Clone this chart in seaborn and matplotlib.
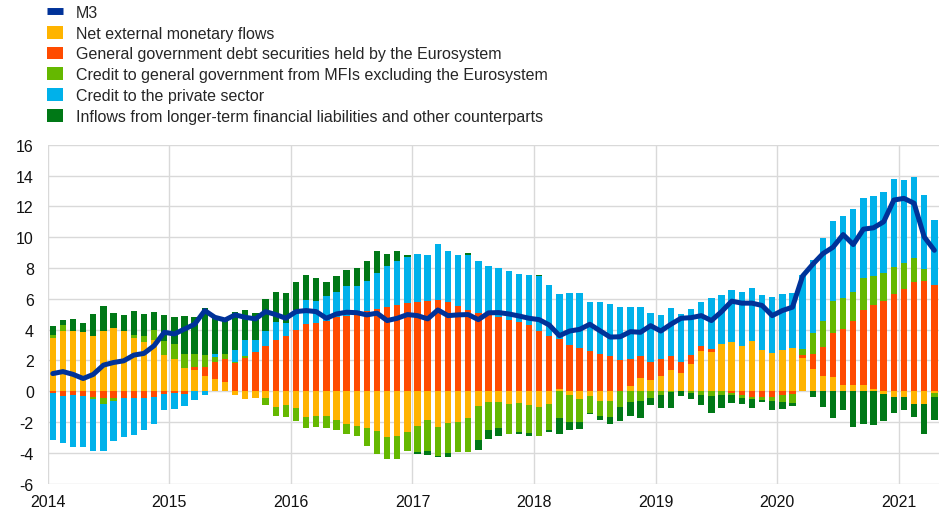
import numpy as np
import pandas as pd
import matplotlib
matplotlib.use("Agg")
import matplotlib.pyplot as plt
from matplotlib.lines import Line2D
from matplotlib.patches import Patch
import seaborn as sns

# ------------------ data (annual % change contributions, monthly Jan 2014 - Apr 2021) ------------------
months = pd.date_range("2014-01-01", periods=88, freq="MS")

m3 = [1.15, 1.28, 1.10, 0.83, 1.10, 1.70, 1.87, 1.98, 2.35, 2.46, 2.96, 3.83,
      3.72, 4.04, 4.35, 5.24, 4.80, 4.63, 4.96, 4.80, 4.70, 5.17, 4.98, 4.74,
      5.17, 5.24, 5.17, 4.74, 5.02, 5.13, 5.10, 4.96, 5.07, 4.59, 4.74, 4.98,
      4.91, 4.70, 5.28, 4.91, 4.96, 4.98, 4.65, 5.09, 5.11, 5.02, 4.89, 4.74,
      4.65, 4.30, 3.61, 3.91, 4.02, 4.35, 3.93, 3.52, 3.54, 3.87, 3.83, 4.26,
      3.91, 4.35, 4.74, 4.78, 4.91, 4.59, 5.17, 5.85, 5.72, 5.72, 5.57, 4.91,
      5.24, 5.46, 7.48, 8.24, 8.93, 9.35, 10.17, 9.52, 10.52, 10.61, 11.00, 12.41,
      12.52, 12.20, 10.02, 9.15]

net_external = [3.46, 3.91, 3.91, 3.85, 3.57, 3.89, 4.09, 3.91, 3.46, 3.22, 3.33, 2.35,
                2.09, 1.52, 1.37, 0.98, 0.83, 0.59, -0.26, -0.52, -0.41, -0.41, -1.02, -0.87,
                -1.09, -1.65, -1.57, -1.57, -1.83, -2.09, -2.26, -2.39, -2.59, -2.98, -2.89, -2.61,
                -2.26, -1.87, -2.33, -2.07, -1.96, -1.76, -0.96, -0.72, -0.72, -0.85, -0.74, -0.87,
                -1.02, -0.80, 0.13, -0.22, -0.48, -0.30, -0.63, -0.63, 0.00, 0.37, 0.87, 0.74,
                1.00, 1.39, 1.20, 1.76, 2.59, 2.52, 3.07, 3.22, 2.93, 3.24, 2.70, 2.50,
                2.67, 2.78, 2.13, 1.43, 1.00, 0.96, 0.39, 0.43, 0.43, 0.17, -0.20, -0.37,
                -0.37, -0.85, -0.80, -0.09]

gov_debt_eurosystem = [-0.08, -0.33, -0.26, -0.33, -0.35, -0.41, -0.46, -0.46, -0.41, -0.41, -0.35, -0.20,
                       -0.13, -0.20, 0.20, 0.59, 1.08, 1.48, 1.85, 2.17, 2.57, 2.96, 3.33, 3.61,
                       4.00, 4.37, 4.41, 4.59, 4.85, 4.91, 4.96, 5.22, 5.35, 5.50, 5.63, 5.72,
                       5.80, 5.85, 5.91, 5.78, 5.52, 5.26, 5.07, 5.13, 4.80, 4.65, 4.48, 4.33,
                       3.93, 3.61, 3.26, 2.98, 2.80, 2.61, 2.41, 2.26, 2.04, 1.72, 1.39, 1.19,
                       1.11, 0.91, 0.69, 0.59, 0.34, 0.22, 0.00, -0.08, -0.26, -0.39, -0.35, -0.35,
                       -0.26, -0.20, 0.20, 0.98, 1.85, 2.84, 3.68, 4.16, 4.83, 5.40, 5.89, 6.30,
                       6.67, 7.09, 7.15, 6.93]

credit_gov_mfi = [0.19, 0.39, 0.00, 0.00, -0.15, -0.44, -0.17, 0.00, 0.19, 0.39, 0.63, 0.91,
                  0.98, 0.87, 0.82, 0.78, 0.33, 0.32, 0.06, 0.09, 0.00, -0.46, -0.55, -0.80,
                  -0.85, -0.74, -0.73, -0.82, -0.69, -0.71, -0.67, -1.13, -1.48, -1.41, -1.50, -1.24,
                  -1.67, -1.98, -1.84, -1.93, -2.00, -2.20, -2.21, -1.82, -1.67, -1.89, -1.91, -1.83,
                  -1.89, -1.68, -1.72, -1.76, -1.54, -1.13, -0.98, -1.04, -1.00, -0.70, -0.63, -0.46,
                  -0.22, -0.07, 0.00, -0.13, -0.22, -0.30, -0.26, -0.14, -0.17, -0.13, -0.24, -0.30,
                  -0.46, -0.54, 0.39, 1.35, 1.74, 2.09, 2.00, 1.87, 2.09, 1.93, 1.76, 1.79,
                  1.63, 1.56, 0.78, -0.26]

credit_private = [-3.05, -3.02, -3.35, -3.28, -3.37, -3.00, -2.57, -2.52, -2.42, -2.11, -1.74, -1.02,
                  -1.00, -0.76, -0.59, -0.22, 0.17, 0.00, 0.76, 1.07, 0.76, 0.95, 1.19, 0.82,
                  1.30, 1.56, 1.44, 1.61, 1.61, 1.94, 1.89, 1.91, 2.35, 2.63, 2.80, 2.98,
                  3.13, 3.00, 3.66, 3.35, 3.35, 3.61, 3.36, 3.02, 3.20, 3.15, 3.15, 3.21,
                  3.53, 3.26, 2.91, 3.39, 3.61, 3.17, 3.37, 3.39, 3.42, 3.37, 3.24, 3.18,
                  2.85, 3.11, 3.13, 2.98, 2.85, 3.30, 3.19, 3.35, 3.53, 3.48, 3.54, 3.63,
                  3.63, 3.63, 4.85, 4.78, 5.34, 5.13, 5.30, 5.37, 5.22, 5.20, 5.31, 5.67,
                  5.42, 5.28, 4.83, 4.16]

longer_term_other = [0.61, 0.33, 0.81, 0.56, 1.47, 1.63, 0.98, 1.07, 1.55, 1.41, 1.19, 1.72,
                     1.73, 2.50, 2.46, 3.04, 2.48, 2.31, 2.46, 1.97, 1.74, 2.07, 1.94, 1.94,
                     1.77, 1.64, 1.50, 0.89, 1.04, 1.00, 1.15, 1.33, 1.39, 0.76, 0.66, 0.15,
                     -0.14, -0.30, -0.09, -0.28, 0.00, 0.10, -0.66, -0.55, -0.54, -0.06, -0.15, -0.17,
                     0.07, -0.13, -1.02, -0.52, -0.44, -0.07, -0.22, -0.48, -0.93, -0.91, -1.13, -0.43,
                     -0.85, -1.00, -0.33, -0.39, -0.69, -1.13, -0.83, -0.56, -0.37, -0.57, -0.13, -0.59,
                     -0.41, -0.24, 0.00, -0.37, -1.00, -1.72, -1.24, -2.30, -2.15, -2.20, -1.73, -1.02,
                     -0.85, -0.82, -1.94, -1.54]

labels = ["Net external monetary flows",
          "General government debt securities held by the Eurosystem",
          "Credit to general government from MFIs excluding the Eurosystem",
          "Credit to the private sector",
          "Inflows from longer-term financial liabilities and other counterparts"]
colors = ["#FFB400", "#FF4B00", "#65B800", "#00B1EA", "#007816"]
m3_color = "#003299"

# ------------------ build tidy frame ------------------
df = pd.DataFrame({
    "date": months,
    labels[0]: net_external,
    labels[1]: gov_debt_eurosystem,
    labels[2]: credit_gov_mfi,
    labels[3]: credit_private,
    labels[4]: longer_term_other,
    "M3": m3,
})
# decimal year at mid-month
df["x"] = df["date"].dt.year + (df["date"].dt.month - 0.5) / 12

# ------------------ plot ------------------
sns.set_style("white")
plt.rcParams["font.family"] = ["Liberation Sans", "DejaVu Sans"]
plt.rcParams["font.size"] = 11.5
plt.rcParams["axes.unicode_minus"] = False

fig = plt.figure(figsize=(9.39, 5.10), dpi=100)
ax = fig.add_axes([47.7 / 939, 1 - 484.8 / 510, 1 - 47.7 / 939, (484.8 - 145.7) / 510])

width = 0.63 / 12
pos_base = np.zeros(len(df))
neg_base = np.zeros(len(df))
for lab, col in zip(labels, colors):
    vals = df[lab].to_numpy()
    bottoms = np.where(vals >= 0, pos_base, neg_base)
    ax.bar(df["x"], vals, bottom=bottoms, width=width, color=col, linewidth=0, zorder=2)
    pos_base = pos_base + np.clip(vals, 0, None)
    neg_base = neg_base + np.clip(vals, None, 0)

sns.lineplot(data=df, x="x", y="M3", ax=ax, color=m3_color, linewidth=3.6, zorder=3)

ax.set_xlim(2014, 2021.33)
ax.set_ylim(-6, 16)
ax.set_yticks(np.arange(-6, 17, 2))
ax.set_xticks(np.arange(2014, 2022))
ax.set_xticklabels([str(y) for y in range(2014, 2022)])
ax.grid(True, color="#d9d9d9", linewidth=1.0, zorder=0)
ax.set_axisbelow(True)
for s in ax.spines.values():
    s.set_visible(False)
ax.tick_params(axis="both", length=0, labelsize=11.5, colors="#111111")
ax.tick_params(axis="y", pad=10)
ax.tick_params(axis="x", pad=7)
ax.set_xlabel("")
ax.set_ylabel("")

handles = [Line2D([0], [0], color=m3_color, linewidth=5, solid_capstyle="butt")]
handles += [Patch(facecolor=c, edgecolor="none") for c in colors]
fig.legend(handles, ["M3"] + labels, loc="upper left", bbox_to_anchor=(47 / 939, 1 - 6 / 510),
           frameon=False, fontsize=11.5, handlelength=1.0, handleheight=0.85,
           handletextpad=0.8, labelspacing=0.36, borderpad=0, borderaxespad=0)

plt.savefig("out.png", dpi=100)
plt.close()
